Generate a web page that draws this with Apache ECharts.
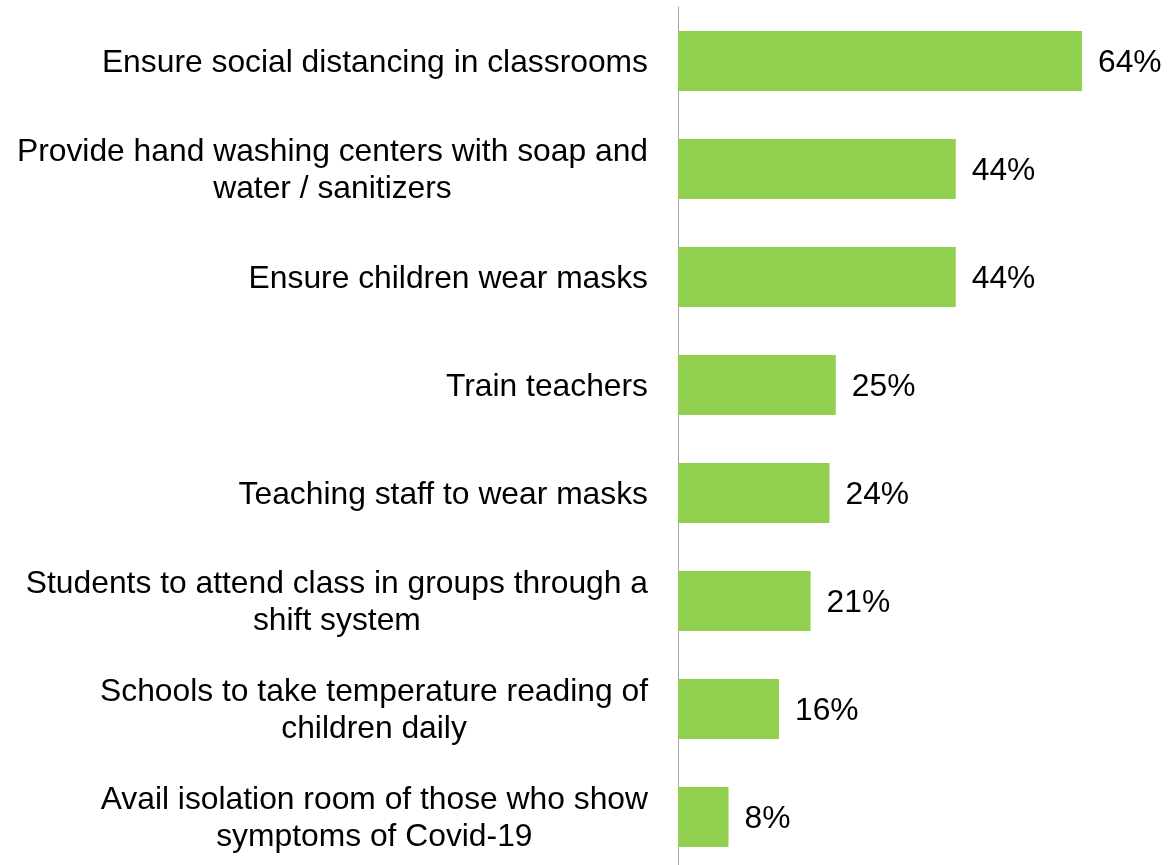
<!DOCTYPE html>
<html>
<head>
<meta charset="utf-8">
<title>School safety measures</title>
<script src="https://cdn.jsdelivr.net/npm/echarts@6/dist/echarts.min.js"></script>
<style>
  html, body { margin: 0; padding: 0; background: #fff; }
  #chart { width: 1176px; height: 865px; }
</style>
</head>
<body>
<div id="chart"></div>
<script>
// categories, top to bottom (line breaks as in the reference)
const categories = [
  'Ensure social distancing in classrooms',
  'Provide hand washing centers with soap and\nwater / sanitizers',
  'Ensure children wear masks',
  'Train teachers',
  'Teaching staff to wear masks',
  'Students to attend class in groups through a\nshift system',
  'Schools to take temperature reading of\nchildren daily',
  'Avail isolation room of those who show\nsymptoms of Covid-19'
]
// share of respondents, %
const values = [64, 44, 44, 25, 24, 21, 16, 8]

const barColor = '#92D050'
const font = '"Liberation Sans", Arial, sans-serif'
const fontSize = 31.8

const chart = echarts.init(document.getElementById('chart'))

chart.setOption({
  animation: false,
  grid: {
    left: 678,
    top: 7,
    width: 404,
    height: 864,
    containLabel: false,
    outerBoundsMode: 'none'
  },
  xAxis: {
    type: 'value',
    min: 0,
    max: 64,
    show: false
  },
  yAxis: {
    type: 'category',
    inverse: true,
    data: categories,
    axisLine: { show: true, lineStyle: { color: '#a6a6a6', width: 1 } },
    axisTick: { show: false },
    splitLine: { show: false },
    axisLabel: {
      margin: 30,
      align: 'right',
      fontFamily: font,
      fontSize: fontSize,
      lineHeight: 37,
      color: '#000',
      // each line centred inside the label block, block right aligned
      formatter: (v) => v.split('\n').map((s) => '{c|' + s + '}').join('\n'),
      rich: {
        c: {
          align: 'center',
          fontFamily: font,
          fontSize: fontSize,
          lineHeight: 37,
          padding: [4, 0, 0, 0],
          color: '#000'
        }
      }
    }
  },
  series: [
    {
      type: 'bar',
      data: values,
      barWidth: 60,
      itemStyle: { color: barColor },
      label: {
        show: true,
        position: 'right',
        distance: 16,
        offset: [0, 2],
        formatter: '{c}%',
        fontFamily: font,
        fontSize: fontSize,
        color: '#000'
      }
    }
  ]
})

window.addEventListener('resize', () => chart.resize())
</script>
</body>
</html>
